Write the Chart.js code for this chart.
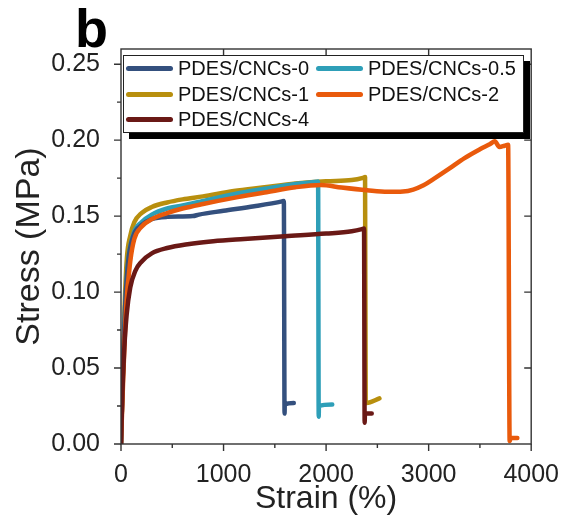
<!DOCTYPE html>
<html>
<head>
<meta charset="utf-8">
<script src="https://cdn.jsdelivr.net/npm/chart.js@4/dist/chart.umd.min.js"></script>
<style>
  html, body { margin: 0; padding: 0; background: #fff; }
  #wrap { position: relative; width: 567px; height: 519px; }
  #panel { position: absolute; left: 75px; top: 1px; font: bold 54px "Liberation Sans", Arial, sans-serif; line-height: 1; color: #000; }
  #legend { position: absolute; left: 123px; top: 55px; width: 397px; height: 76px; border: 1px solid #222; background: #fff;
            box-shadow: 6px 6px 0 #000; display: grid; grid-template-columns: 190px 1fr; grid-auto-rows: 25.5px; padding-left: 2px; box-sizing: content-box; }
  .item { display: flex; align-items: center; font: 20px "Liberation Sans", Arial, sans-serif; color: #111; white-space: nowrap; }
  .swatch { width: 47px; height: 5px; border-radius: 2.5px; margin-right: 5px; }
</style>
</head>
<body>
<div id="wrap">
  <canvas id="c" width="567" height="519"></canvas>
  <div id="panel">b</div>
  <div id="legend"></div>
</div>
<script>
// ---- data ----
const seriesNames = ['PDES/CNCs-0', 'PDES/CNCs-0.5', 'PDES/CNCs-1', 'PDES/CNCs-2', 'PDES/CNCs-4'];
const seriesColors = ['#34507e', '#2e9fb8', '#b88f0e', '#e95a0c', '#6a1916'];

const strain0 = [0, 15, 40, 70, 120, 200, 300, 450, 700, 760, 1000, 1300, 1570, 1588, 1595, 1597, 1685];
const stress0 = [0, 0.04, 0.09, 0.12, 0.137, 0.144, 0.148, 0.1495, 0.150, 0.151, 0.1535, 0.1565, 0.1597, 0.160, 0.020, 0.026, 0.027];

const strain05 = [0, 15, 40, 70, 120, 200, 300, 450, 600, 800, 1100, 1400, 1700, 1905, 1922, 1928, 1930, 2060];
const stress05 = [0, 0.04, 0.09, 0.12, 0.138, 0.146, 0.151, 0.155, 0.157, 0.160, 0.1645, 0.168, 0.1712, 0.1726, 0.1728, 0.018, 0.025, 0.026];

const strain1 = [0, 15, 35, 57, 90, 130, 200, 300, 450, 600, 800, 1100, 1400, 1700, 2000, 2250, 2360, 2380, 2386, 2395, 2520];
const stress1 = [0, 0.04, 0.09, 0.122, 0.137, 0.146, 0.152, 0.156, 0.159, 0.161, 0.163, 0.1665, 0.169, 0.1715, 0.173, 0.1737, 0.1752, 0.1757, 0.028, 0.027, 0.030];

const strain2 = [0, 20, 50, 90, 130, 200, 300, 450, 600, 800, 1100, 1400, 1700, 1950, 2150, 2400, 2600, 2750, 2850, 2950, 3050, 3200, 3350, 3500, 3600, 3645, 3690, 3740, 3775, 3790, 3800, 3865];
const stress2 = [0, 0.04, 0.09, 0.12, 0.135, 0.143, 0.148, 0.152, 0.155, 0.158, 0.162, 0.1655, 0.169, 0.1705, 0.1688, 0.167, 0.166, 0.1662, 0.1675, 0.1703, 0.1745, 0.1812, 0.1882, 0.194, 0.1975, 0.1992, 0.1955, 0.1963, 0.197, 0.002, 0.004, 0.004];

const strain4 = [0, 12, 30, 55, 90, 140, 200, 300, 450, 650, 900, 1200, 1600, 2000, 2250, 2350, 2370, 2376, 2379, 2445];
const stress4 = [0, 0.03, 0.06, 0.085, 0.103, 0.114, 0.120, 0.1255, 0.129, 0.1315, 0.1335, 0.135, 0.1368, 0.1385, 0.140, 0.1414, 0.1418, 0.014, 0.020, 0.020];

const xTicks = [0, 1000, 2000, 3000, 4000];
const yTicks = [0, 0.05, 0.10, 0.15, 0.20, 0.25];

const strains = [strain0, strain05, strain1, strain2, strain4];
const stresses = [stress0, stress05, stress1, stress2, stress4];
// drawing order: first listed is top-most
const drawOrder = [4, 3, 0, 1, 2];

const datasets = drawOrder.map(i => ({
  label: seriesNames[i],
  data: strains[i].map((s, k) => ({ x: s, y: stresses[i][k] })),
  borderColor: seriesColors[i],
  backgroundColor: seriesColors[i],
  borderWidth: 4.5,
  showLine: true,
  pointRadius: 0,
  cubicInterpolationMode: 'monotone',
  borderJoinStyle: 'round',
  borderCapStyle: 'round',
  fill: false
}));

// legend (HTML, built from series arrays)
const leg = document.getElementById('legend');
seriesNames.forEach((n, i) => {
  const d = document.createElement('div');
  d.className = 'item';
  const sw = document.createElement('span');
  sw.className = 'swatch';
  sw.style.background = seriesColors[i];
  d.appendChild(sw);
  d.appendChild(document.createTextNode(n));
  leg.appendChild(d);
});

const AXIS = '#333';
const frame = {
  id: 'frame',
  afterDraw(chart) {
    const { ctx, chartArea: a, scales: { x, y } } = chart;
    ctx.save();
    ctx.strokeStyle = AXIS;
    ctx.lineWidth = 1.4;
    ctx.strokeRect(a.left, a.top, a.right - a.left, a.bottom - a.top);
    ctx.beginPath();
    for (let k = 0; k < xTicks.length; k++) {
      const px = x.getPixelForValue(xTicks[k]);
      ctx.moveTo(px, a.bottom); ctx.lineTo(px, a.bottom + 7);
      if (k > 0 && k < xTicks.length - 1) { ctx.moveTo(px, a.top); ctx.lineTo(px, a.top + 7); }
      if (k < xTicks.length - 1) {
        const pm = x.getPixelForValue((xTicks[k] + xTicks[k + 1]) / 2);
        ctx.moveTo(pm, a.bottom); ctx.lineTo(pm, a.bottom + 4);
      }
    }
    for (let k = 0; k < yTicks.length; k++) {
      const py = y.getPixelForValue(yTicks[k]);
      ctx.moveTo(a.left, py); ctx.lineTo(a.left - 7, py);
      if (k > 0) { ctx.moveTo(a.right, py); ctx.lineTo(a.right - 7, py); }
      if (k < yTicks.length - 1) {
        const pm = y.getPixelForValue((yTicks[k] + yTicks[k + 1]) / 2);
        ctx.moveTo(a.left, pm); ctx.lineTo(a.left - 4, pm);
      }
    }
    ctx.stroke();
    ctx.restore();
  }
};

const FONT = '"Liberation Sans", Arial, sans-serif';
new Chart(document.getElementById('c'), {
  type: 'scatter',
  data: { datasets },
  options: {
    responsive: false,
    animation: false,
    devicePixelRatio: 1,
    layout: { padding: { top: 49, right: 30, left: 0, bottom: 0 } },
    plugins: { legend: { display: false }, tooltip: { enabled: false } },
    scales: {
      x: {
        type: 'linear', min: 0, max: 4000, position: 'bottom',
        grid: { display: false }, border: { display: false },
        afterBuildTicks: s => { s.ticks = xTicks.map(v => ({ value: v })); },
        afterFit: s => { s.height = 75; },
        ticks: { font: { family: FONT, size: 25 }, color: '#222', padding: 8, maxRotation: 0, autoSkip: false,
                 callback: v => String(v) },
        title: { display: true, text: 'Strain (%)', font: { family: FONT, size: 32 }, color: '#222', padding: { top: 0, bottom: 1 } }
      },
      y: {
        type: 'linear', min: 0, max: 0.26, position: 'left',
        grid: { display: false }, border: { display: false },
        afterBuildTicks: s => { s.ticks = yTicks.map(v => ({ value: v })); },
        afterFit: s => { s.width = 121; },
        ticks: { font: { family: FONT, size: 25 }, color: '#222', padding: 13, autoSkip: false,
                 callback: v => Number(v).toFixed(2) },
        title: { display: true, text: 'Stress (MPa)', font: { family: FONT, size: 34 }, color: '#222', padding: { top: 9, bottom: 0 } }
      }
    }
  },
  plugins: [frame]
});
</script>
</body>
</html>
